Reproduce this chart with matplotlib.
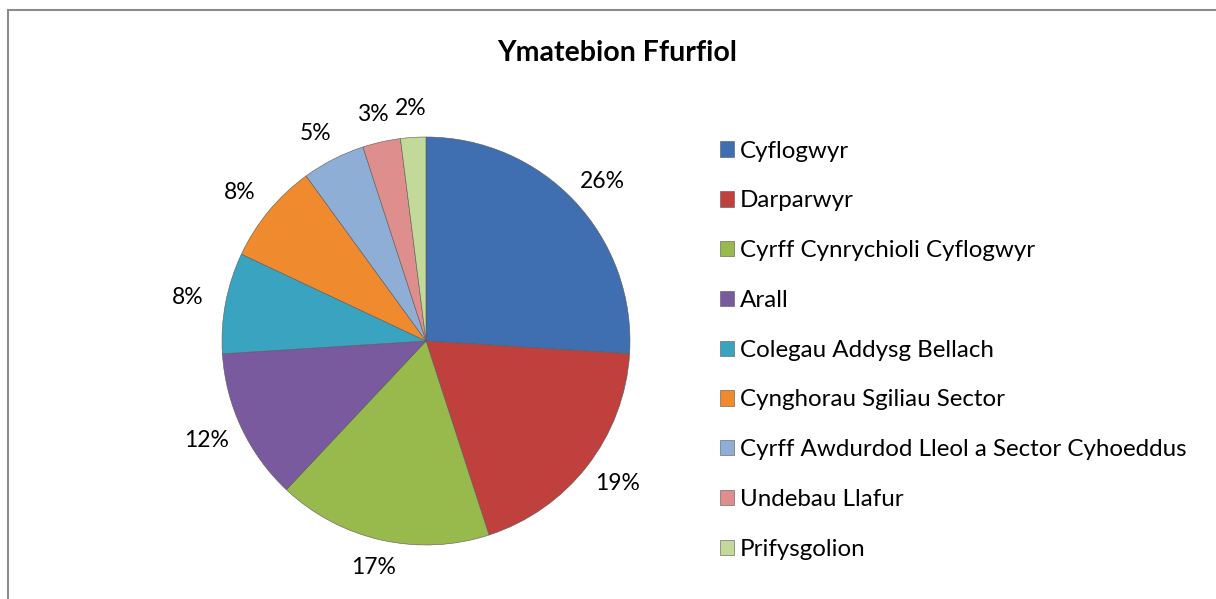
import numpy as np
import matplotlib.pyplot as plt
from matplotlib.lines import Line2D

# Data
categories = ['Cyflogwyr', 'Darparwyr', 'Cyrff Cynrychioli Cyflogwyr', 'Arall',
              'Colegau Addysg Bellach', 'Cynghorau Sgiliau Sector',
              'Cyrff Awdurdod Lleol a Sector Cyhoeddus', 'Undebau Llafur', 'Prifysgolion']
values = [26, 19, 17, 12, 8, 8, 5, 3, 2]
colors = ['#3F6FB0', '#C0403D', '#98BA4C', '#7A5A9E', '#3AA4C0',
          '#F08A2E', '#8FAED6', '#DE8E8C', '#C2D99A']

plt.rcParams['font.family'] = ['Lato', 'DejaVu Sans']

fig = plt.figure(figsize=(12.16, 5.99), dpi=100)

W, H = 1216, 599
cx, cy, r = 426, 341, 204
ax = fig.add_axes([(cx - r) / W, (H - cy - r) / H, 2 * r / W, 2 * r / H])

wedges, _ = ax.pie(values, colors=colors, startangle=90, counterclock=False,
                   wedgeprops=dict(edgecolor='#5a5a5a', linewidth=0.4))
ax.set_xlim(-1, 1)
ax.set_ylim(-1, 1)
ax.set_aspect('equal')
ax.axis('off')

# outside-end labels: text box just touching a circle slightly larger than the pie
gap, hw, hh = 0.08, 0.108, 0.06
for w, v in zip(wedges, values):
    th = np.deg2rad((w.theta1 + w.theta2) / 2)
    c, s = np.cos(th), np.sin(th)
    x = (1 + gap) * c + hw * c
    y = (1 + gap) * s + hh * s
    ax.text(x, y, f'{v}%', ha='center', va='center', fontsize=16.5, color='black')

# Title
fig.text(617 / W, 1 - 61 / H, 'Ymatebion Ffurfiol', ha='center', va='baseline',
         fontsize=20.5, fontweight='bold')

# Legend
handles = [plt.Rectangle((0, 0), 1, 1, facecolor=c, edgecolor='#555555', linewidth=0.4)
           for c in colors]
fig.legend(handles, categories, loc='upper left',
           bbox_to_anchor=(710 / W, 1 - 131 / H), frameon=False,
           fontsize=17.4, handlelength=0.6, handleheight=0.6,
           handletextpad=0.25, labelspacing=1.19, borderaxespad=0)

# Chart border (top and left visible)
fig.add_artist(Line2D([8 / W, 1], [1 - 10 / H, 1 - 10 / H], color='#8c8c8c', linewidth=1.5))
fig.add_artist(Line2D([8 / W, 8 / W], [0, 1 - 10 / H], color='#8c8c8c', linewidth=1.5))

fig.savefig('out.png', dpi=100)
